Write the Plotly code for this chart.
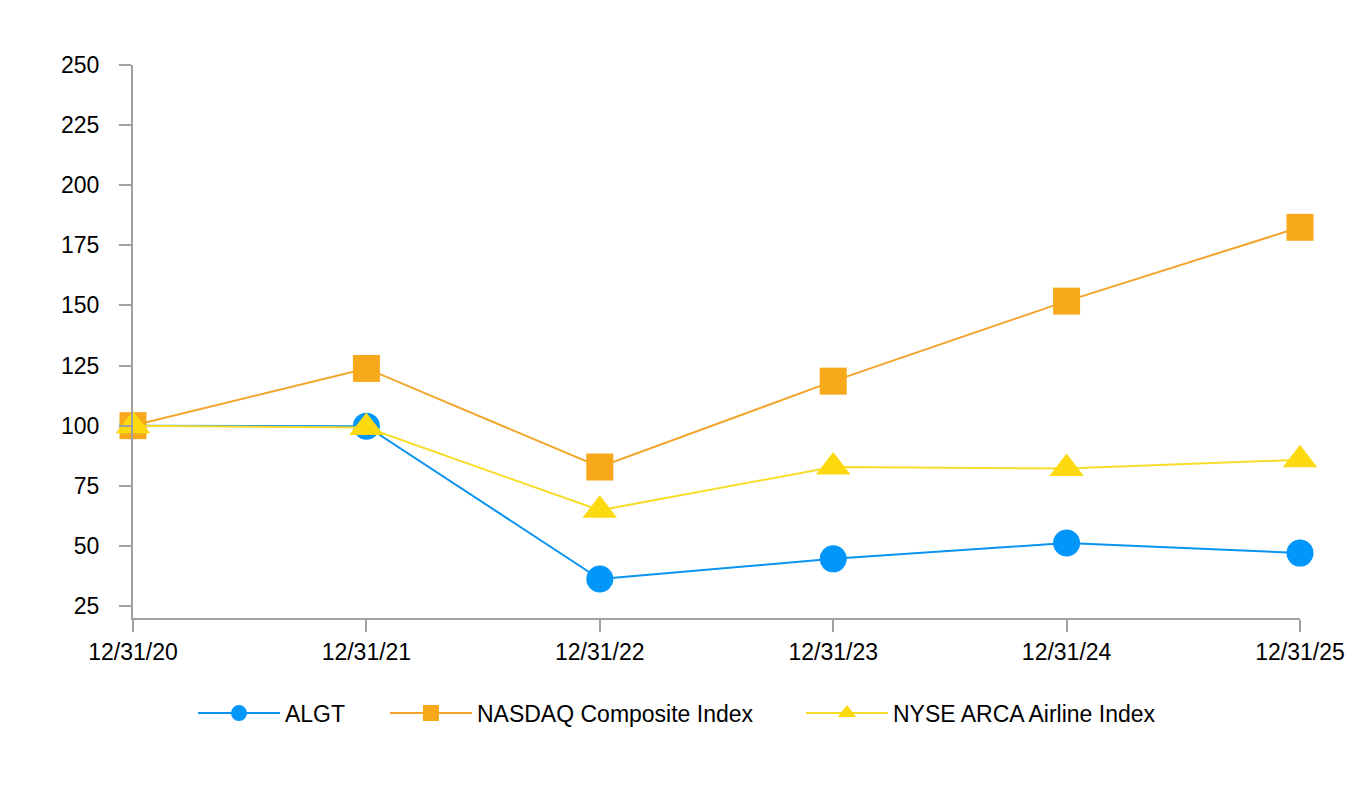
import plotly.graph_objects as go

dates = ["12/31/20", "12/31/21", "12/31/22", "12/31/23", "12/31/24", "12/31/25"]
algt = [100, 99.8, 36.2, 44.6, 51.2, 47.0]
nasdaq = [100, 123.8, 82.8, 118.5, 151.8, 182.5]
nyse_arca = [100, 99.2, 64.8, 82.8, 82.2, 85.8]
y_ticks = [25, 50, 75, 100, 125, 150, 175, 200, 225, 250]

fig = go.Figure()
fig.add_trace(go.Scatter(x=dates, y=algt, name="ALGT", mode="lines+markers",
                         line=dict(color="#0A93F0", width=2),
                         marker=dict(symbol="circle", size=27, color="#0096FA"),
                         cliponaxis=False, legend="legend"))
fig.add_trace(go.Scatter(x=dates, y=nasdaq, name="NASDAQ Composite Index", mode="lines+markers",
                         line=dict(color="#F2A52A", width=2),
                         marker=dict(symbol="square", size=27, color="#F7A81B"),
                         cliponaxis=False, legend="legend2"))
fig.add_trace(go.Scatter(x=dates, y=nyse_arca, name="NYSE ARCA Airline Index", mode="lines+markers",
                         line=dict(color="#F8DC2A", width=2),
                         marker=dict(symbol="triangle-up", size=30, color="#FDD90F"),
                         cliponaxis=False, legend="legend3"))

legend_common = dict(orientation="h", xanchor="left", y=-0.172, yanchor="middle",
                     font=dict(size=23), itemwidth=82, bgcolor="rgba(0,0,0,0)")

fig.update_layout(
    width=1348, height=784,
    margin=dict(l=125, r=56, t=57, b=174),
    paper_bgcolor="white", plot_bgcolor="white",
    font=dict(family="Liberation Sans, Arial, sans-serif", size=23, color="#000000"),
    showlegend=True,
    legend=dict(x=0.0514, **legend_common),
    legend2=dict(x=0.2159, **legend_common),
    legend3=dict(x=0.5724, **legend_common),
)
fig.update_xaxes(type="category", range=[0, 5], showline=True, linecolor="#A0A0A0", linewidth=2,
                 ticks="outside", ticklen=12, tickcolor="#A0A0A0", tickwidth=2,
                 showgrid=False, zeroline=False, tickfont=dict(size=23))
fig.update_yaxes(range=[20, 250], tickvals=y_ticks, showline=True, linecolor="#A0A0A0", linewidth=2,
                 ticks="outside", ticklen=12, tickcolor="#A0A0A0", tickwidth=2,
                 ticklabelstandoff=15,
                 showgrid=False, zeroline=False, tickfont=dict(size=23))

fig.write_html("out.html")
